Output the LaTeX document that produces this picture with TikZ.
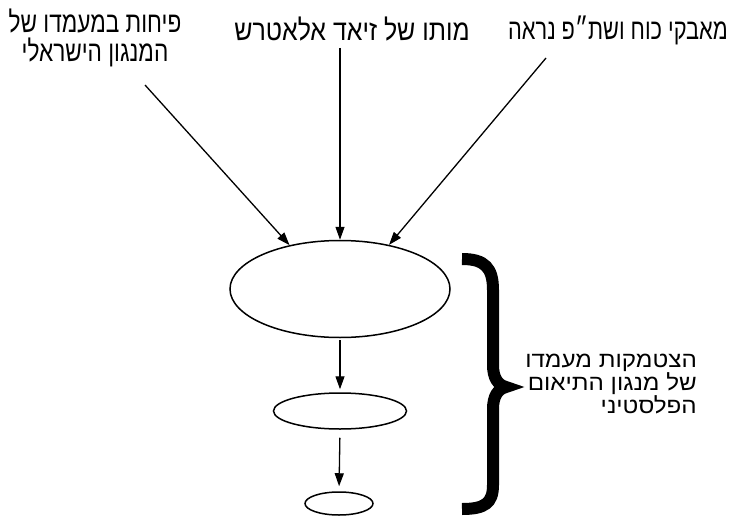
\documentclass[tikz,border=0pt]{standalone}
\usepackage{fontspec}
\setmainfont{Liberation Sans}
\newfontfamily\hebleft[Script=Hebrew,FakeStretch=0.78]{Liberation Sans}
\newfontfamily\hebmid[Script=Hebrew,FakeStretch=0.86]{Liberation Sans}
\newfontfamily\hebright[Script=Hebrew,FakeStretch=0.75]{Liberation Sans}
\newfontfamily\hebside[Script=Hebrew,FakeStretch=1.1]{Liberation Sans}
\TeXXeTstate=1
\usetikzlibrary{shapes.geometric,arrows.meta}
\begin{document}
\begin{tikzpicture}[x=1pt,y=-1pt,
  oval/.style={draw,ellipse,line width=1.5pt,inner sep=0pt},
  conn/.style={line width=1.3pt,-{Triangle[length=13pt,width=9pt]}},
  toplabel/.style={align=center,inner sep=0pt},
  sidelabel/.style={font=\hebside\fontsize{22}{21.5}\selectfont,align=right,inner sep=0pt},
  bracestyle/.style={line width=12pt}]
\useasboundingbox (0,0) rectangle (733,524);
\fill[white] (0,0) rectangle (733,524);
% labels
\node[toplabel,font=\hebleft\fontsize{29}{28.5}\selectfont] (t1) at (95,38) {\beginR פיחות במעמדו של\endR\\\beginR המנגון הישראלי\endR};
\node[toplabel,font=\hebmid\fontsize{29}{28.5}\selectfont] (t2) at (352,29) {\beginR מותו של זיאד אלאטרש\endR};
\node[toplabel,font=\hebright\fontsize{29}{28.5}\selectfont] (t3) at (618,30) {\beginR מאבקי כוח ושת״פ נראה\endR};
\node[sidelabel,anchor=east] (t4) at (697,384) {\beginR הצטמקות מעמדו\endR\\\beginR של מנגון התיאום\endR\\\beginR הפלסטיני\endR};
% ellipses
\node[oval,minimum width=220pt,minimum height=97pt] (big) at (340,289) {};
\node[oval,minimum width=133pt,minimum height=36pt] (mid) at (340,411) {};
\node[oval,minimum width=68pt,minimum height=23pt] (small) at (339,503.5) {};
% arrow start points
\coordinate (s1) at (145,85);
\coordinate (s2) at (340,48);
\coordinate (s3) at (546,58);
\draw[conn] (s1) -- (big.139);
\draw[conn] (s2) -- (big.90);
\draw[conn] (s3) -- (big.42);
\draw[conn,shorten <=2pt,shorten >=3pt] (big.south) -- (mid.north);
\draw[conn,shorten <=8pt,shorten >=5pt] (mid.south) -- (small.north);
% brace
\draw[bracestyle] (462,259) .. controls (485,259) and (493,268) .. (493,290)
  -- (493,365) .. controls (493,378) and (498,385) .. (506,387)
  .. controls (498,389) and (493,396) .. (493,409)
  -- (493,485) .. controls (493,503) and (485,509) .. (462,509);
\end{tikzpicture}
\end{document}
